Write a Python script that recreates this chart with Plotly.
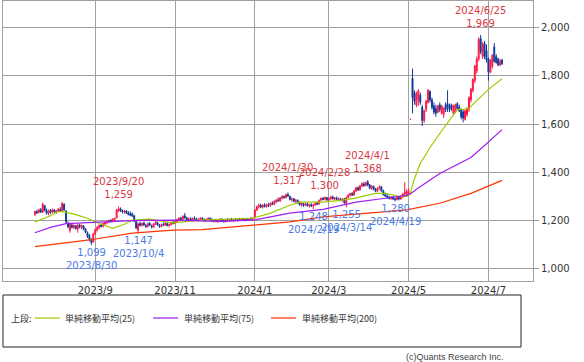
import pandas as pd
import plotly.graph_objects as go

# ---------------- data ----------------
start_date = "2023-07-19"
end_date = "2024-07-10"
jp_holidays = ["2023-08-11", "2023-09-18", "2023-10-09", "2023-11-03", "2023-11-23",
               "2024-01-01", "2024-01-02", "2024-01-03", "2024-01-08", "2024-02-12",
               "2024-02-23", "2024-03-20", "2024-04-29", "2024-05-03", "2024-05-06"]

open_ = [
    # Jul-Aug 2023
    1225,1238,1235,1245,1235,1262,1242,1232,1242,1236,1244,1236,1240,1246,1240,1268,1240,1190,1160,1182,
    1172,1178,1165,1180,1172,1178,1165,1150,1138,1120,1112,
    # Sep
    1145,1160,1172,1182,1176,1186,1192,1196,1202,1198,1205,1212,1240,1248,1240,1236,1240,1232,1230,1228,
    # Oct
    1220,1196,1160,1188,1182,1190,1180,1176,1188,1178,1174,1186,1192,1180,1176,1184,1182,1188,1180,1184,1192,
    # Nov-Dec
    1188,1196,1204,1210,1206,1220,1212,1202,1208,1200,1210,1206,1202,1206,1210,1204,1200,1204,1210,1204,
    1198,1202,1196,1200,1206,1200,1196,1204,1202,1206,1200,1204,1202,1206,1204,1208,1202,1206,1204,1208,1206,
    # Jan-Feb 2024
    1212,1244,1258,1264,1256,1266,1258,1266,1262,1272,1268,1278,1286,1282,1294,1300,1296,1308,1300,1288,
    1290,1280,1284,1274,1266,1270,1264,1270,1262,1266,1262,1266,1272,1270,1286,1292,1290,1296,
    # Mar-Apr, May 1
    1286,1292,1298,1290,1294,1288,1290,1284,1290,1272,1296,1306,1312,1306,1324,1336,1328,1344,1352,1346,
    1360,1348,1334,1342,1330,1322,1334,1340,1324,1308,1302,1296,1292,1298,1290,1288,1296,1290,1300,1310,1304,1316,
    # May 2 - Jul 10
    1620,1790,1730,1680,1700,1720,1670,1615,1660,1690,1735,1700,1675,1665,1650,1680,1645,1640,1680,1685,
    1675,1680,1645,1650,1685,1670,1660,1650,1620,1640,1660,1700,1740,1780,1820,1870,1955,1880,1935,1905,
    1870,1815,1840,1920,1880,1870,1845,1865,
]
high = [
    1240,1245,1250,1252,1275,1266,1250,1246,1248,1250,1248,1244,1252,1256,1278,1272,1244,1196,1192,1190,
    1185,1182,1188,1186,1184,1182,1170,1155,1145,1128,1150,
    1168,1178,1185,1188,1192,1196,1200,1204,1206,1210,1212,1248,1259,1255,1246,1244,1244,1240,1238,1234,
    1224,1200,1192,1196,1192,1196,1186,1192,1194,1184,1190,1198,1196,1186,1188,1192,1194,1192,1188,1196,1200,
    1200,1208,1214,1216,1222,1232,1216,1212,1214,1212,1218,1212,1210,1214,1214,1210,1208,1214,1214,1210,
    1206,1208,1204,1210,1210,1206,1206,1210,1208,1212,1206,1210,1208,1212,1210,1212,1208,1212,1210,1214,1212,
    1248,1262,1272,1270,1268,1272,1270,1274,1276,1280,1284,1290,1296,1298,1306,1304,1312,1317,1304,1296,
    1294,1290,1288,1280,1276,1274,1276,1274,1270,1272,1268,1276,1280,1288,1296,1298,1300,1298,
    1296,1302,1304,1298,1300,1296,1294,1294,1294,1300,1310,1316,1318,1328,1340,1342,1348,1358,1360,1362,
    1368,1352,1348,1346,1336,1338,1346,1344,1328,1316,1310,1304,1302,1302,1296,1300,1300,1306,1314,1359,1330,1334,
    1620,1830,1740,1735,1745,1730,1680,1660,1700,1745,1740,1710,1690,1680,1680,1690,1680,1670,1690,1740,
    1685,1685,1680,1685,1690,1680,1665,1660,1660,1670,1715,1750,1790,1845,1880,1960,1969,1940,1945,1930,
    1875,1870,1890,1936,1890,1875,1870,1870,
]
low = [
    1220,1228,1230,1232,1232,1238,1225,1222,1228,1230,1232,1228,1236,1238,1236,1240,1188,1168,1150,1168,
    1165,1162,1150,1168,1165,1160,1148,1128,1115,1099,1108,
    1140,1155,1165,1172,1172,1180,1185,1190,1192,1195,1200,1210,1235,1236,1230,1228,1228,1222,1218,1215,
    1195,1165,1147,1176,1175,1178,1170,1172,1178,1168,1170,1182,1178,1170,1172,1178,1178,1176,1172,1180,1185,
    1185,1192,1198,1200,1202,1208,1198,1196,1198,1196,1202,1198,1196,1200,1200,1196,1194,1200,1200,1196,
    1192,1194,1190,1196,1198,1192,1192,1198,1196,1198,1194,1198,1196,1200,1198,1200,1196,1200,1198,1202,1200,
    1210,1240,1250,1252,1250,1255,1254,1256,1258,1264,1264,1272,1278,1278,1288,1290,1292,1298,1284,1278,
    1276,1272,1270,1262,1258,1258,1260,1258,1254,1256,1248,1260,1264,1266,1280,1284,1284,1282,
    1280,1286,1288,1284,1286,1282,1280,1278,1270,1255,1292,1300,1302,1304,1318,1322,1324,1338,1340,1342,
    1342,1330,1328,1326,1318,1318,1328,1320,1304,1298,1292,1288,1286,1286,1280,1284,1284,1286,1294,1300,1298,1308,
    1620,1645,1680,1670,1675,1680,1592,1605,1650,1685,1690,1660,1640,1630,1645,1650,1640,1625,1650,1650,
    1650,1655,1640,1645,1660,1650,1620,1607,1615,1630,1650,1690,1730,1770,1810,1860,1890,1870,1870,1855,
    1780,1810,1830,1855,1850,1840,1840,1845,
]
close = [
    1238,1232,1245,1236,1268,1242,1230,1240,1234,1246,1236,1240,1248,1242,1270,1246,1195,1175,1185,1172,
    1180,1168,1182,1176,1180,1165,1152,1135,1122,1110,1145,
    1162,1172,1180,1176,1188,1192,1196,1200,1198,1206,1210,1245,1250,1240,1236,1240,1232,1226,1222,1220,
    1198,1170,1186,1180,1188,1182,1176,1188,1182,1174,1186,1194,1182,1176,1184,1180,1190,1180,1184,1192,1188,
    1196,1204,1210,1206,1218,1212,1202,1208,1200,1210,1206,1202,1206,1210,1204,1200,1204,1210,1204,1198,
    1202,1196,1200,1206,1200,1196,1204,1202,1206,1200,1204,1202,1206,1204,1208,1202,1206,1204,1208,1206,1210,
    1244,1258,1262,1256,1264,1258,1266,1262,1272,1268,1280,1286,1282,1294,1300,1296,1308,1302,1288,1290,
    1280,1284,1274,1266,1272,1262,1270,1262,1266,1260,1266,1272,1268,1284,1292,1288,1296,1286,
    1292,1298,1290,1294,1288,1292,1284,1290,1274,1296,1306,1312,1306,1324,1336,1328,1344,1354,1346,1358,
    1348,1334,1342,1330,1322,1334,1340,1324,1308,1302,1296,1292,1298,1290,1288,1296,1290,1302,1310,1318,1322,1320,
    1620,1710,1695,1728,1738,1690,1615,1655,1695,1740,1700,1670,1650,1645,1675,1660,1675,1665,1660,1670,
    1660,1665,1675,1680,1665,1655,1630,1625,1655,1665,1710,1745,1785,1840,1870,1950,1900,1930,1880,1865,
    1815,1865,1885,1860,1855,1845,1860,1850,
]

ma25_dates = ["2023-07-19","2023-07-31","2023-08-03","2023-08-08","2023-08-18","2023-08-28","2023-09-05",
              "2023-09-14","2023-09-25","2023-09-29","2023-10-13","2023-10-31","2023-11-21","2023-12-15",
              "2023-12-29","2024-01-17","2024-01-31","2024-02-07","2024-02-27","2024-03-11","2024-03-21",
              "2024-04-05","2024-04-12","2024-04-25","2024-04-30","2024-05-01","2024-05-02","2024-05-08",
              "2024-05-13","2024-05-20","2024-05-27","2024-06-03","2024-06-07","2024-06-13","2024-06-17",
              "2024-06-20","2024-06-25","2024-07-02","2024-07-10"]
ma25_vals = [1195,1220,1235,1238,1225,1210,1188,1168,1185,1202,1206,1191,1202,1206,1210,1231,1264,1277,
             1277,1284,1292,1313,1313,1298,1300,1303,1318,1375,1437,1503,1561,1615,1660,1662,1665,1690,
             1712,1750,1788]

ma75_dates = ["2023-07-19","2023-07-31","2023-08-10","2023-08-29","2023-09-29","2023-10-31","2023-11-22",
              "2023-12-07","2024-01-04","2024-01-31","2024-02-27","2024-03-22","2024-04-15","2024-04-30",
              "2024-05-02","2024-05-09","2024-05-27","2024-06-10","2024-06-18","2024-06-25","2024-07-02",
              "2024-07-10"]
ma75_vals = [1150,1172,1188,1193,1200,1202,1199,1197,1203,1231,1247,1277,1294,1305,1312,1330,1395,1437,
             1462,1497,1532,1577]

ma200_dates = ["2023-07-19","2023-08-29","2023-09-29","2023-10-31","2023-11-22","2023-12-15","2024-01-04",
               "2024-01-31","2024-02-27","2024-04-01","2024-04-30","2024-05-27","2024-06-18","2024-07-10"]
ma200_vals = [1092,1120,1148,1161,1163,1174,1181,1195,1216,1230,1245,1272,1313,1367]

hi_dates = ["2023-09-20", "2024-01-30", "2024-02-28", "2024-04-01", "2024-06-25"]
hi_vals = [1259, 1317, 1300, 1368, 1969]
lo_dates = ["2023-08-30", "2023-10-04", "2024-02-19", "2024-03-14", "2024-04-19"]
lo_vals = [1099, 1147, 1248, 1255, 1280]

x_tick_dates = ["2023-09-01", "2023-11-01", "2024-01-04", "2024-03-01", "2024-05-01", "2024-07-01"]
x_tick_labels = ["2023/9", "2023/11", "2024/1", "2024/3", "2024/5", "2024/7"]
y_tick_vals = [1000, 1200, 1400, 1600, 1800, 2000]
y_tick_labels = ["1,000", "1,200", "1,400", "1,600", "1,800", "2,000"]

legend_labels = ["単純移動平均(25)", "単純移動平均(75)", "単純移動平均(200)"]
ma_colors = ["#99cc00", "#9f1ff0", "#ff3300"]

# ---------------- figure ----------------
dates = [d.strftime("%Y-%m-%d") for d in pd.bdate_range(start_date, end_date)
         if d.strftime("%Y-%m-%d") not in jp_holidays]
dates = dates[:len(close)]

FONT = "DejaVu Sans"
fig = go.Figure()
fig.add_trace(go.Candlestick(
    x=dates, open=open_, high=high, low=low, close=close,
    increasing=dict(line=dict(color="#ff1744", width=1), fillcolor="#ff1744"),
    decreasing=dict(line=dict(color="#0d3a9c", width=1), fillcolor="#0d3a9c"),
    whiskerwidth=0, hoverinfo="skip", showlegend=False,
))
for dts, vals, col in [(ma25_dates, ma25_vals, ma_colors[0]),
                       (ma75_dates, ma75_vals, ma_colors[1]),
                       (ma200_dates, ma200_vals, ma_colors[2])]:
    fig.add_trace(go.Scatter(x=dts, y=vals, mode="lines", line=dict(color=col, width=1.2),
                             hoverinfo="skip", showlegend=False))


def fmt_date(s):
    y, m, d = s.split("-")
    return f"{int(y)}/{int(m)}/{int(d)}"


annotations = []
for d, v in zip(hi_dates, hi_vals):
    annotations.append(dict(x=d, y=v, xref="x", yref="y", text=f"{fmt_date(d)}<br>{v:,}",
                            showarrow=False, yanchor="bottom", xanchor="center", yshift=4,
                            font=dict(family=FONT, size=10, color="#d9383f")))
for d, v in zip(lo_dates, lo_vals):
    annotations.append(dict(x=d, y=v, xref="x", yref="y", text=f"{v:,}<br>{fmt_date(d)}",
                            showarrow=False, yanchor="top", xanchor="center", yshift=0,
                            font=dict(family=FONT, size=10, color="#4a7be6")))

# legend box (paper coords: plot spans pixels x 3..533, y 1..281)
W0, W1, H0, H1 = 3, 533, 1, 281


def px(x):
    return (x - W0) / (W1 - W0)


def py(y):
    return (H1 - y) / (H1 - H0)


LEG_FONT = dict(family="Noto Sans CJK JP", size=9, color="#333333")
shapes = [dict(type="rect", xref="paper", yref="paper", x0=px(3), x1=px(521), y0=py(347), y1=py(295),
               line=dict(color="#222222", width=1), fillcolor="rgba(0,0,0,0)")]
annotations.append(dict(x=px(9), y=py(318), xref="paper", yref="paper", text="上段:", showarrow=False,
                        xanchor="left", yanchor="middle", font=LEG_FONT))
leg_x = [(35, 60, 63), (153, 178, 182), (271, 296, 300)]
for (x0, x1, xt), lab, col in zip(leg_x, legend_labels, ma_colors):
    shapes.append(dict(type="line", xref="paper", yref="paper", x0=px(x0), x1=px(x1), y0=py(318), y1=py(318),
                       line=dict(color=col, width=1.2)))
    annotations.append(dict(x=px(xt), y=py(318), xref="paper", yref="paper", text=lab, showarrow=False,
                            xanchor="left", yanchor="middle", font=LEG_FONT))
annotations.append(dict(x=px(506), y=py(357), xref="paper", yref="paper", text="(c)Quants Research Inc.",
                        showarrow=False, xanchor="right", yanchor="middle",
                        font=dict(family="Liberation Sans", size=9, color="#444444")))

fig.update_layout(
    width=584, height=362,
    margin=dict(l=W0, r=584 - W1, t=H0, b=362 - H1, autoexpand=False),
    plot_bgcolor="white", paper_bgcolor="white",
    showlegend=False,
    font=dict(family=FONT, size=10, color="#333333"),
    annotations=annotations, shapes=shapes,
    xaxis=dict(type="category", categoryorder="array", categoryarray=dates,
               range=[-16.4, 255.9], tickvals=x_tick_dates, ticktext=x_tick_labels,
               showgrid=True, gridcolor="#a0a0a0", gridwidth=1, automargin=False,
               showline=True, mirror=True, linecolor="#a0a0a0", linewidth=1,
               ticks="", tickfont=dict(family=FONT, size=10, color="#333333"),
               rangeslider=dict(visible=False), fixedrange=True),
    yaxis=dict(side="right", range=[950, 2110], tickvals=y_tick_vals, ticktext=y_tick_labels,
               showgrid=True, gridcolor="#a0a0a0", gridwidth=1, zeroline=False, automargin=False,
               showline=True, mirror=True, linecolor="#a0a0a0", linewidth=1,
               ticks="outside", ticklen=5, tickcolor="#a0a0a0",
               tickfont=dict(family=FONT, size=10, color="#333333"), fixedrange=True),
)

fig.write_html("out.html", config={"displayModeBar": False},
               post_script="document.body.style.margin='0';document.body.style.padding='0';")
